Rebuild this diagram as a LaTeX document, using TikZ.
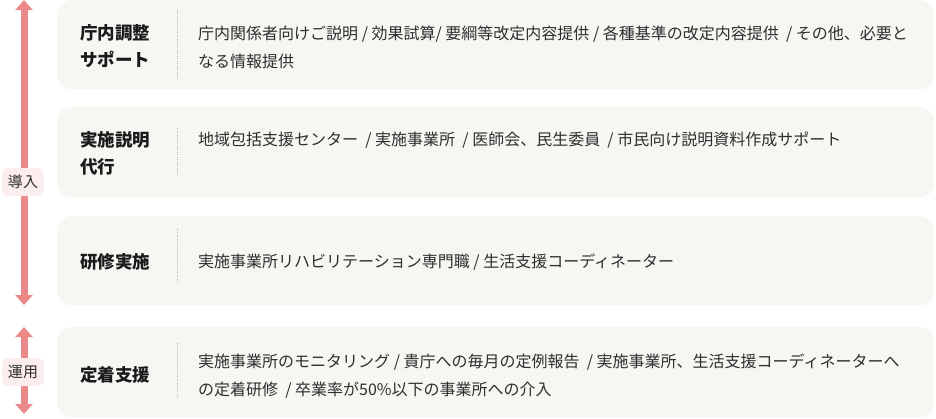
\documentclass[tikz,border=0pt]{standalone}
\usepackage{fontspec}
\setmainfont{Noto Sans CJK JP}
\usetikzlibrary{arrows.meta}
\definecolor{boxfill}{HTML}{F7F6F3}
\definecolor{arrowc}{HTML}{EA898A}
\definecolor{labelbg}{HTML}{FCEEEE}
\definecolor{bodyc}{HTML}{2E2E2E}
\definecolor{ttlc}{HTML}{1A1A1A}
\definecolor{divc}{HTML}{B5B5B5}
\begin{document}
\begin{tikzpicture}[x=1pt,y=-1pt,
  panel/.style={draw=none,fill=boxfill,rounded corners=14pt,minimum width=877pt,inner sep=0pt,anchor=north west},
  ttl/.style={font=\bfseries\fontsize{17.5}{27}\selectfont,text=ttlc,align=left,anchor=west,inner sep=0pt},
  body/.style={font=\fontsize{16}{28}\selectfont,text=bodyc,align=left,anchor=west,inner sep=0pt},
  divider/.style={draw=divc,line width=0.8pt,dash pattern=on 1pt off 1.2pt},
  phase/.style={fill=labelbg,rounded corners=6pt,minimum width=42pt,minimum height=28pt,inner sep=0pt,font=\fontsize{15}{17}\selectfont,text=bodyc},
  flow/.style={draw=arrowc,line width=7pt,{Triangle[width=17pt,length=10pt]}-{Triangle[width=17pt,length=10pt]}}
]
\useasboundingbox (0,0) rectangle (936,418);
% panels
\node[panel,minimum height=89pt] (p1) at (57,0) {};
\node[panel,minimum height=90pt] (p2) at (57,107) {};
\node[panel,minimum height=89pt] (p3) at (57,216) {};
\node[panel,minimum height=90pt] (p4) at (57,327) {};
% titles
\node[ttl] (t1) at (80,46.5) {庁内調整\\サポート};
\node[ttl] (t2) at (80,153.5) {実施説明\\代行};
\node[ttl] (t3) at (80,262) {研修実施};
\node[ttl] (t4) at (80,375) {定着支援};
% dividers
\draw[divider] (177,10) -- (177,80);
\draw[divider] (177,128) -- (177,176);
\draw[divider] (177,228) -- (177,283);
\draw[divider] (177,343) -- (177,397);
% bodies
\node[body] (b1) at (198,47) {庁内関係者向けご説明 / 効果試算/ 要綱等改定内容提供 / 各種基準の改定内容提供~ / その他、必要と\\なる情報提供};
\node[body] (b2) at (198,140) {地域包括支援センター~ / 実施事業所~ / 医師会、民生委員~ / 市民向け説明資料作成サポート};
\node[body] (b3) at (198,262) {実施事業所リハビリテーション専門職 / 生活支援コーディネーター};
\node[body] (b4) at (198,376) {実施事業所のモニタリング / 貴庁への毎月の定例報告~ / 実施事業所、生活支援コーディネーターへ\\の定着研修~ / 卒業率が50\%以下の事業所への介入};
% arrows
\coordinate (a1s) at (24,0);
\coordinate (a1e) at (24,305);
\coordinate (a2s) at (24,327);
\coordinate (a2e) at (24,414);
\draw[flow] (a1s) -- (a1e);
\draw[flow] (a2s) -- (a2e);
\node[phase] (l1) at (23,182) {導入};
\node[phase] (l2) at (23,372) {運用};
\end{tikzpicture}
\end{document}
